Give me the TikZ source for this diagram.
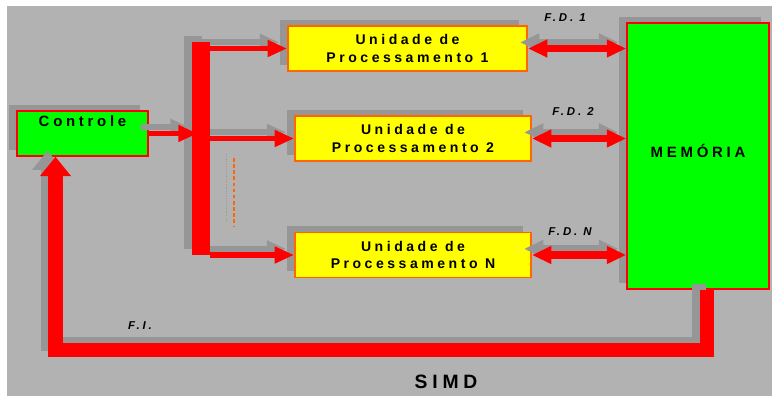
\documentclass[tikz,border=0pt]{standalone}
\usepackage{fontspec}
\setmainfont{Liberation Sans}
\newfontfamily\trackfont[LetterSpace=25]{Liberation Sans}
\usetikzlibrary{arrows.meta,calc,shadows}

\definecolor{bggray}{RGB}{178,178,178}
\definecolor{shadegray}{RGB}{150,150,150}
\definecolor{memgreen}{RGB}{0,255,0}
\definecolor{unityellow}{RGB}{255,255,0}
\definecolor{edgeorange}{RGB}{255,102,0}

\tikzset{
	boxshade/.style={drop shadow={shadow xshift=-4.5pt, shadow yshift=3.5pt, fill=shadegray, opacity=1}},
	lineshade/.style={preaction={draw=shadegray, line width=#1, transform canvas={xshift=-4.5pt, yshift=3.5pt}}},
	unitbox/.style={boxshade, draw=edgeorange, line width=1.1pt, fill=unityellow, minimum width=4.72cm, minimum height=0.9cm, inner sep=0pt, align=center, font=\trackfont\bfseries\fontsize{8}{10}\selectfont},
	greenbox/.style={boxshade, draw=red, line width=0.9pt, fill=memgreen, inner sep=0pt, align=center, font=\trackfont\bfseries\fontsize{8.5}{11}\selectfont},
	busarrow/.style={lineshade=3.4pt, draw=red, line width=3.4pt, -{Triangle[length=11pt, width=9pt]}},
	dataarrow/.style={lineshade=4pt, draw=red, line width=4pt, {Triangle[length=11pt, width=9.5pt]}-{Triangle[length=11pt, width=9.5pt]}},
	fbarrow/.style={lineshade=8pt, draw=red, line width=8pt, line join=miter, -{Triangle[length=11pt, width=17pt]}},
	flowlabel/.style={font=\trackfont\bfseries\itshape\fontsize{6.5}{8}\selectfont}
}

\begin{document}
\begin{tikzpicture}[x=0.02cm, y=-0.02cm]
		%%%%% START %%%%%
		\useasboundingbox (0,0) rectangle (772,396);
		\fill[bggray] (7,6) rectangle (772,396);
		
		\node[greenbox, minimum width=2.62cm, minimum height=0.9cm] (ctrl) at (82.5,133.5) {Controle\\\strut};
		\node[boxshade, fill=red, minimum width=0.36cm, minimum height=4.26cm, inner sep=0pt] (bus) at (201,148.5) {};
		
		\node[unitbox, minimum width=4.78cm] (pu1) at (407.5,48.5) {Unidade de\\Processamento 1};
		\node[unitbox] (pu2) at (413,138.5) {Unidade de\\Processamento 2};
		\node[unitbox] (pun) at (413,255) {Unidade de\\Processamento N};
		
		\node[greenbox, minimum width=2.84cm, minimum height=5.32cm] (mem) at (698,156) {MEMÓRIA\\[-5pt]};
		
		% controle -> barramento -> unidades
		\draw[busarrow] (ctrl.east) -- ($(bus.west |- ctrl.east)+(6,0)$);
		\draw[busarrow] (bus.east |- pu1.west) -- (pu1.west);
		\draw[busarrow] (bus.east |- pu2.west) -- (pu2.west);
		\draw[busarrow] (bus.east |- pun.west) -- (pun.west);
		\fill[red] (bus.south west) rectangle (bus.north east);
		
		\draw[shadegray, densely dotted, line width=0.4pt] (226,154) -- (226,222);
		\draw[edgeorange, dash pattern=on 2pt off 1.5pt, line width=0.8pt] (234,158) -- (234,226);
		
		% fluxos de dados
		\draw[dataarrow] (pu1.east) -- (mem.west |- pu1.east);
		\draw[dataarrow] (pu2.east) -- (mem.west |- pu2.east);
		\draw[dataarrow] (pun.east) -- (mem.west |- pun.east);
		
		% fluxo de instrucoes
		\coordinate (fbout) at ($(mem.south)+(9,0)$);
		\draw[fbarrow] (fbout) -- ++(0,60) -| ($(ctrl.south)+(-27,0)$);
		
		\node[flowlabel] (fd1) at (565,18) {F.D. 1};
		\node[flowlabel] (fd2) at (573,112) {F.D. 2};
		\node[flowlabel] (fdn) at (570,232) {F.D. N};
		\node[flowlabel] (fi) at (140,326) {F.I.};
		
		\node[font=\trackfont\bfseries\fontsize{11}{13}\selectfont] (simd) at (446,382) {SIMD};
		%%%%% END %%%%%
\end{tikzpicture}
\end{document}
